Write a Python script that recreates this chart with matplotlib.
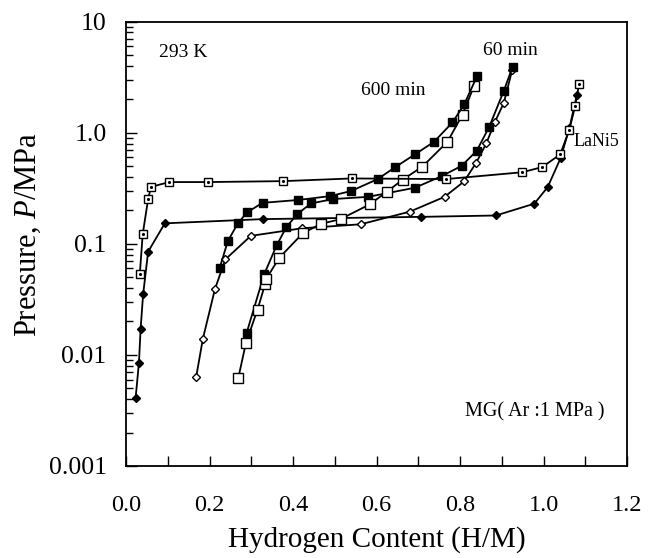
import matplotlib
matplotlib.use("Agg")
import matplotlib.pyplot as plt
from matplotlib.ticker import LogLocator, NullFormatter, MultipleLocator

plt.rcParams['font.family'] = ['Liberation Serif', 'DejaVu Serif']
plt.rcParams['mathtext.fontset'] = 'custom'
plt.rcParams['mathtext.rm'] = 'Liberation Serif'
plt.rcParams['mathtext.it'] = 'Liberation Serif:italic'

# 600 min, filled squares
m600_fill_x = [0.224, 0.244, 0.268, 0.290, 0.327, 0.411, 0.489, 0.539, 0.603, 0.644, 0.692, 0.738, 0.782, 0.810, 0.841]
m600_fill_y = [0.060, 0.106, 0.153, 0.192, 0.234, 0.248, 0.269, 0.299, 0.383, 0.488, 0.639, 0.830, 1.24, 1.80, 3.24]

# 600 min, open squares
m600_open_x = [0.269, 0.287, 0.315, 0.333, 0.335, 0.367, 0.423, 0.466, 0.514, 0.584, 0.625, 0.663, 0.710, 0.770, 0.806, 0.834]
m600_open_y = [0.0062, 0.0127, 0.0256, 0.0431, 0.0478, 0.0748, 0.124, 0.151, 0.167, 0.227, 0.295, 0.379, 0.496, 0.830, 1.46, 2.66]

# 60 min, filled squares
m60_fill_x = [0.289, 0.331, 0.361, 0.384, 0.410, 0.443, 0.496, 0.580, 0.692, 0.758, 0.804, 0.840, 0.870, 0.905, 0.926]
m60_fill_y = [0.0158, 0.0533, 0.0973, 0.141, 0.185, 0.231, 0.253, 0.265, 0.320, 0.410, 0.504, 0.688, 1.13, 2.39, 3.93]

# 60 min, open diamonds
m60_open_x = [0.168, 0.184, 0.213, 0.238, 0.299, 0.421, 0.562, 0.680, 0.763, 0.810, 0.839, 0.863, 0.884, 0.905, 0.925]
m60_open_y = [0.0063, 0.0139, 0.0391, 0.0725, 0.118, 0.138, 0.150, 0.195, 0.265, 0.365, 0.539, 0.803, 1.26, 1.86, 3.67]

# LaNi5, dotted squares
lani_sq_x = [0.033, 0.040, 0.053, 0.060, 0.104, 0.196, 0.377, 0.541, 0.767, 0.949, 0.997, 1.040, 1.062, 1.076, 1.085]
lani_sq_y = [0.053, 0.122, 0.253, 0.326, 0.360, 0.360, 0.367, 0.388, 0.383, 0.441, 0.491, 0.639, 1.07, 1.75, 2.73]

# LaNi5, filled diamonds
lani_dia_x = [0.023, 0.031, 0.035, 0.041, 0.053, 0.093, 0.327, 0.707, 0.886, 0.978, 1.010, 1.041, 1.062, 1.080]
lani_dia_y = [0.0041, 0.0085, 0.0172, 0.035, 0.085, 0.153, 0.167, 0.175, 0.180, 0.230, 0.324, 0.592, 1.10, 2.20]

x_ticks = [0.0, 0.2, 0.4, 0.6, 0.8, 1.0, 1.2]
x_tick_labels = ['0.0', '0.2', '0.4', '0.6', '0.8', '1.0', '1.2']
y_ticks = [0.001, 0.01, 0.1, 1.0, 10]
y_tick_labels = ['0.001', '0.01', '0.1', '1.0', '10']

fig = plt.figure(figsize=(6.54, 5.58), dpi=100)
ax = fig.add_axes([126/654, 1-466/558, (627-126)/654, (466-21.7)/558])

lw = 1.3
ax.plot(lani_dia_x, lani_dia_y, '-', color='black', lw=lw, marker='D', ms=4.5,
        mfc='black', mec='black', zorder=3)
ax.plot(lani_sq_x, lani_sq_y, '-', color='black', lw=lw, marker='s', ms=6,
        mfc='white', mec='black', mew=1.0, zorder=4)
ax.plot(lani_sq_x, lani_sq_y, linestyle='none', marker='.', ms=2.5, color='black', zorder=5)
ax.plot(m60_open_x, m60_open_y, '-', color='black', lw=lw, marker='D', ms=4.2,
        mfc='white', mec='black', mew=1.0, zorder=3)
ax.plot(m60_fill_x, m60_fill_y, '-', color='black', lw=lw, marker='s', ms=6,
        mfc='black', mec='black', zorder=3)
ax.plot(m600_open_x, m600_open_y, '-', color='black', lw=lw, marker='s', ms=6.5,
        mfc='white', mec='black', mew=1.0, zorder=3)
ax.plot(m600_fill_x, m600_fill_y, '-', color='black', lw=lw, marker='s', ms=6,
        mfc='black', mec='black', zorder=3)

ax.set_yscale('log')
ax.set_xlim(0, 1.2)
ax.set_ylim(0.001, 10)
ax.set_xticks(x_ticks)
ax.set_xticklabels(x_tick_labels)
ax.xaxis.set_minor_locator(MultipleLocator(0.1))
ax.set_yticks(y_ticks)
ax.set_yticklabels(y_tick_labels)
ax.yaxis.set_minor_locator(LogLocator(base=10, subs=range(2, 10)))
ax.yaxis.set_minor_formatter(NullFormatter())

ax.tick_params(axis='both', which='both', direction='in', top=False, right=False, width=1.0)
ax.tick_params(axis='x', which='major', length=7, pad=21, labelsize=17.5)
ax.tick_params(axis='x', which='minor', length=7)
ax.tick_params(axis='y', which='major', length=8, pad=14, labelsize=18.5)
ax.tick_params(axis='y', which='minor', length=5)
for s in ax.spines.values():
    s.set_linewidth(1.3)

ax.set_xlabel('Hydrogen Content (H/M)', fontsize=21)
ax.xaxis.set_label_coords(0.5, -0.135)
ax.set_ylabel('Pressure, $\\it{P}$/MPa', fontsize=22)
ax.yaxis.set_label_coords(-0.165, 0.52)

ax.text(0.079, 5.33, '293 K', fontsize=14, va='center', ha='left')
ax.text(0.856, 5.45, '60 min', fontsize=14, va='center', ha='left')
ax.text(0.562, 2.39, '600 min', fontsize=14, va='center', ha='left')
ax.text(1.071, 0.84, 'LaNi5', fontsize=13, va='center', ha='left')
ax.text(0.811, 0.00305, 'MG( Ar :1 MPa )', fontsize=14.5, va='center', ha='left')

fig.savefig('out.png', dpi=100)
